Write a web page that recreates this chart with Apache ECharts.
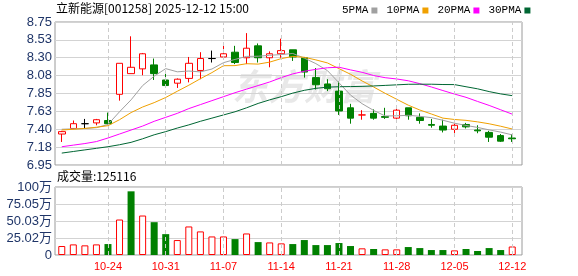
<!DOCTYPE html>
<html><head><meta charset="utf-8">
<script src="https://cdn.jsdelivr.net/npm/echarts@6/dist/echarts.min.js"></script>
<style>html,body{margin:0;padding:0;background:#fff}#c{width:578px;height:276px}</style>
</head><body><div id="c"></div>
<script>
// ---------- data ----------
const stockTitle = '立新能源[001258] 2025-12-12 15:00';
const volumeTitle = '成交量:125116';
const watermarkText = '东方财富';
const categories = ['10-20','10-21','10-22','10-23','10-24','10-27','10-28','10-29','10-30','10-31',
  '11-03','11-04','11-05','11-06','11-07','11-10','11-11','11-12','11-13','11-14',
  '11-17','11-18','11-19','11-20','11-21','11-24','11-25','11-26','11-27','11-28',
  '12-01','12-02','12-03','12-04','12-05','12-08','12-09','12-10','12-11','12-12'];
const opens  = [7.34,7.41,7.47,7.48,7.51,7.84,8.10,8.16,8.21,8.02, 7.98,8.04,8.14,8.29,8.31,8.37,8.30,8.45,8.30,8.35,
                8.40,8.30,8.05,7.97,7.88,7.67,7.58,7.60,7.56,7.54, 7.67,7.55,7.46,7.44,7.40,7.46,7.39,7.36,7.32,7.29];
const closes = [7.37,7.47,7.47,7.52,7.47,8.23,8.18,8.35,8.10,7.95, 8.03,8.23,8.29,8.29,8.35,8.24,8.42,8.30,8.35,8.39,
                8.31,8.12,7.96,7.91,7.63,7.54,7.58,7.54,7.55,7.64, 7.57,7.51,7.45,7.39,7.45,7.43,7.38,7.30,7.25,7.28];
const lows   = [7.24,7.40,7.41,7.45,7.46,7.76,8.10,8.08,8.02,7.92, 7.92,7.99,8.03,8.24,8.28,8.22,8.22,8.24,8.18,8.30,
                8.26,8.05,7.90,7.88,7.58,7.47,7.52,7.52,7.53,7.52, 7.52,7.47,7.42,7.36,7.35,7.41,7.35,7.24,7.24,7.24];
const highs  = [7.38,7.51,7.53,7.53,7.61,8.23,8.57,8.36,8.29,8.13, 8.04,8.31,8.37,8.39,8.47,8.45,8.61,8.48,8.38,8.54,
                8.40,8.30,8.17,8.03,8.00,7.72,7.64,7.65,7.67,7.68, 7.67,7.60,7.53,7.52,7.47,7.48,7.45,7.38,7.34,7.34];
const ma5  = [7.400,7.405,7.410,7.420,7.460,7.620,7.770,7.950,8.068,8.163, 8.123,8.133,8.122,8.158,8.238,8.279,8.317,8.319,8.331,8.340,
              8.354,8.295,8.226,8.138,7.985,7.830,7.722,7.637,7.567,7.569, 7.576,7.563,7.546,7.513,7.476,7.448,7.423,7.392,7.364,7.329];
const ma10 = [7.390,7.400,7.410,7.425,7.445,7.520,7.610,7.680,7.735,7.800, 7.878,7.954,8.036,8.113,8.200,8.201,8.225,8.220,8.245,8.289,
              8.317,8.306,8.273,8.235,8.163,8.092,8.008,7.932,7.852,7.777, 7.703,7.642,7.592,7.540,7.523,7.512,7.493,7.469,7.438,7.403];
const ma20 = [7.180,7.200,7.220,7.245,7.290,7.340,7.390,7.440,7.500,7.550, 7.600,7.660,7.710,7.760,7.810,7.860,7.905,7.950,7.995,8.050,
              8.097,8.130,8.154,8.174,8.181,8.147,8.117,8.076,8.049,8.033, 8.010,7.974,7.932,7.887,7.843,7.802,7.750,7.700,7.645,7.590];
const ma30 = [7.100,7.120,7.140,7.160,7.180,7.205,7.235,7.280,7.330,7.370, 7.415,7.455,7.500,7.540,7.580,7.620,7.670,7.725,7.770,7.810,
              7.855,7.890,7.915,7.930,7.935,7.937,7.940,7.945,7.952,7.959, 7.966,7.967,7.967,7.963,7.962,7.935,7.909,7.874,7.845,7.823];
const volumes = [13.2,15.6,14.2,15.6,16.1,52.2,93.7,58.1,48.3,30.7, 22.0,42.0,34.7,27.3,27.3,23.4,31.7,19.0,18.5,17.1,
                 16.1,22.0,14.6,14.6,17.6,13.2,9.8,8.8,8.3,8.3, 11.7,10.2,7.3,7.3,6.8,8.8,5.9,10.2,7.3,12.51];
const priceTicks = ['6.95','7.18','7.40','7.63','7.85','8.08','8.30','8.53','8.75'];
const volTicks = ['0','25.02万','50.03万','75.05万','100万'];
const maNames = ['5PMA','10PMA','20PMA','30PMA'];

// ---------- styles ----------
const PRICE_MIN = 6.95, PRICE_MAX = 8.75, PRICE_STEP = 0.225;
const VOL_MAX = 100.07, VOL_STEP = VOL_MAX / 4;
const RED = '#ff0000', GREEN = '#008000', NAVY = '#1f3568';
const maColors = ['#a0a0a0', '#f0a000', '#ff00ff', '#006633'];
const GRID_LINE = '#d3d3d3', FRAME = '#9a9a9a';
const labelFont = 'Liberation Sans, "Noto Sans CJK SC", sans-serif';

const candleData = opens.map((o, i) => {
  const item = { value: [o, closes[i], lows[i], highs[i]] };
  if (o === closes[i] && i > 0 && closes[i] === closes[i - 1]) {
    item.itemStyle = { borderColor: '#000', borderColor0: '#000', borderColorDoji: '#000', color: '#000', color0: '#000' };
  }
  return item;
});
const volData = volumes.map((v, i) => {
  const up = i === 0 || closes[i] >= closes[i - 1];
  return { value: v, itemStyle: up ? { color: '#fff', borderColor: RED, borderWidth: 1 } : { color: GREEN, borderColor: GREEN, borderWidth: 0 } };
});
const markCats = categories.filter((c, i) => i % 5 === 4).map(c => ({ xAxis: c }));
const vLine = {
  silent: true, symbol: 'none', animation: false, label: { show: false },
  lineStyle: { color: '#cccccc', type: [4, 3], width: 1 },
  data: markCats
};

const chart = echarts.init(document.getElementById('c'), null, { renderer: 'canvas' });
chart.setOption({
  animation: false,
  backgroundColor: '#fff',
  grid: [
    { left: 55, top: 22, width: 467, height: 143, show: true, borderColor: FRAME, borderWidth: 1, backgroundColor: 'transparent', outerBoundsMode: 'none' },
    { left: 56, top: 22, width: 462, height: 143, outerBoundsMode: 'none' },
    { left: 55, top: 187, width: 467, height: 68, show: true, borderColor: FRAME, borderWidth: 1, backgroundColor: 'transparent', outerBoundsMode: 'none' },
    { left: 56, top: 187, width: 462, height: 68, outerBoundsMode: 'none' }
  ],
  legend: {
    data: maNames, left: 337, top: 0, align: 'right', icon: 'rect', itemWidth: 6, itemHeight: 6, itemGap: 9,
    textStyle: { fontFamily: 'Liberation Mono, monospace', fontSize: 11, color: '#000', padding: [0, -2, 0, 0] },
    selectedMode: false
  },
  graphic: [
    { type: 'text', left: 56, top: 2, silent: true, style: { text: stockTitle, fill: '#000', font: '12px "Noto Sans CJK SC", sans-serif' } },
    { type: 'text', left: 57, top: 170, silent: true, style: { text: volumeTitle, fill: '#000', font: '12px "Noto Sans CJK SC", sans-serif' } },
    { type: 'text', left: 232, top: 68, silent: true, z: -1, style: { text: watermarkText, fill: '#e8e8e8', font: 'italic bold 36px "Noto Sans CJK SC", sans-serif' } }
  ],
  xAxis: [
    { gridIndex: 0, type: 'category', data: categories, show: false },
    { gridIndex: 1, type: 'category', data: categories, show: false },
    { gridIndex: 2, type: 'category', data: categories, show: false },
    { gridIndex: 3, type: 'category', data: categories,
      axisLine: { show: false }, axisTick: { show: false }, splitLine: { show: false },
      axisLabel: { interval: (i) => i % 5 === 4, color: RED, fontSize: 11, fontFamily: labelFont, margin: 6 } }
  ],
  yAxis: [
    { gridIndex: 0, type: 'value', min: PRICE_MIN, max: PRICE_MAX, interval: PRICE_STEP,
      axisLine: { show: false }, axisTick: { show: false },
      splitLine: { lineStyle: { color: GRID_LINE, width: 1 } },
      axisLabel: { formatter: v => priceTicks[Math.round((v - PRICE_MIN) / PRICE_STEP)], color: NAVY, fontSize: 13, fontFamily: labelFont, margin: 3 } },
    { gridIndex: 1, type: 'value', min: PRICE_MIN, max: PRICE_MAX, show: false, splitLine: { show: false } },
    { gridIndex: 2, type: 'value', min: 0, max: VOL_MAX, interval: VOL_STEP,
      axisLine: { show: false }, axisTick: { show: false },
      splitLine: { lineStyle: { color: GRID_LINE, width: 1 } },
      axisLabel: { formatter: v => volTicks[Math.round(v / VOL_STEP)], color: NAVY, fontSize: 13, fontFamily: labelFont, margin: 3 } },
    { gridIndex: 3, type: 'value', min: 0, max: VOL_MAX, show: false, splitLine: { show: false } }
  ],
  series: [
    { type: 'candlestick', name: 'K', xAxisIndex: 1, yAxisIndex: 1, barWidth: 7, data: candleData,
      itemStyle: { color: '#ffffff', color0: GREEN, borderColor: RED, borderColor0: GREEN, borderWidth: 1 },
      markLine: vLine, z: 3 },
    ...maNames.map((n, k) => ({
      type: 'line', name: n, xAxisIndex: 1, yAxisIndex: 1, data: [ma5, ma10, ma20, ma30][k],
      showSymbol: false, symbol: 'none', lineStyle: { color: maColors[k], width: 1 }, itemStyle: { color: maColors[k] }, z: 4
    })),
    { type: 'bar', name: 'VOL', xAxisIndex: 3, yAxisIndex: 3, barWidth: 7, data: volData, markLine: vLine }
  ]
});
</script>
</body></html>
